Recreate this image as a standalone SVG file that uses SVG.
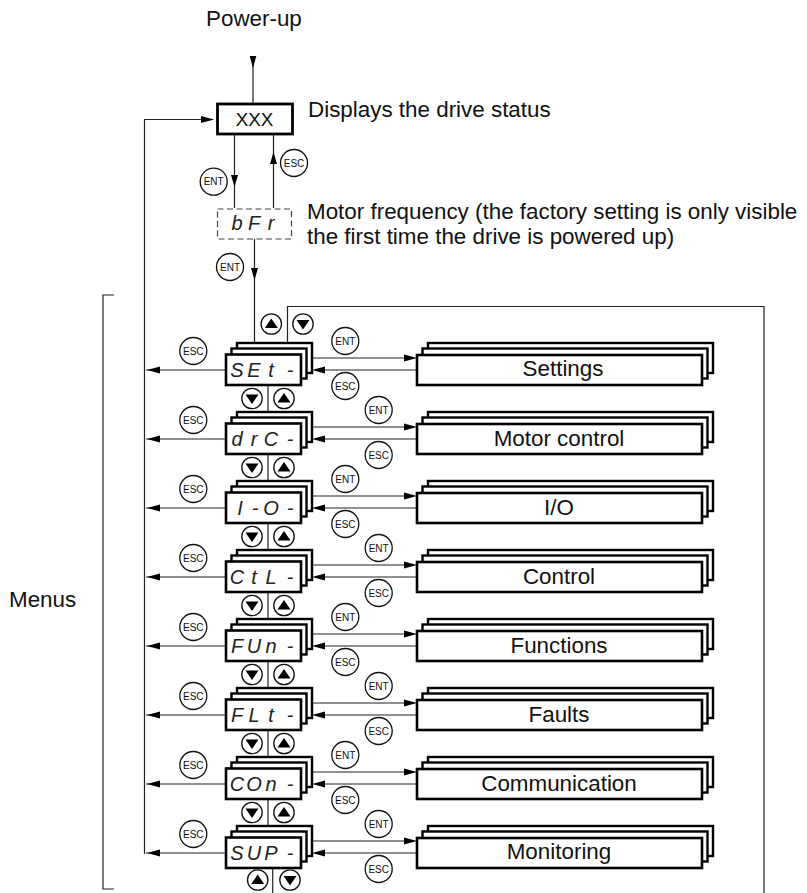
<svg xmlns="http://www.w3.org/2000/svg" xmlns:xlink="http://www.w3.org/1999/xlink" width="807" height="893" viewBox="0 0 807 893">
<style>
.l{fill:none;stroke:#222;stroke-width:1.2}
.h{fill:#000;stroke:none}
.f{fill:#fff;stroke:#000;stroke-width:2.6}
.b{fill:#fff;stroke:#000;stroke-width:2.4}
.c{fill:#fff;stroke:#111;stroke-width:1.3}
.k{font:10px "Liberation Sans",Arial,sans-serif;fill:#111;text-anchor:middle}
.t{font:22.4px "Liberation Sans",Arial,sans-serif;fill:#111}
.m{font:22.4px "Liberation Sans",Arial,sans-serif;fill:#111;text-anchor:middle}
.d{font:italic 20px "Liberation Sans",sans-serif;fill:#222;text-anchor:middle}
</style>
<defs>
<g id="ent"><circle class="c" r="13.5"/><text class="k" y="3.6">ENT</text></g>
<g id="esc"><circle class="c" r="13.5"/><text class="k" y="3.6">ESC</text></g>
<g id="up"><circle class="c" r="10.2"/><path class="h" d="M0-5.5 6.5 4H-6.5Z"/></g>
<g id="dn"><circle class="c" r="10.2"/><path class="h" d="M0 5.5 6.500-4H-6.500Z"/></g>
<g id="stack"><rect class="b" x="11" y="-27" width="75" height="30"/><rect class="b" x="5.500" y="-21.500" width="75" height="30"/><rect class="f" x="0" y="-15.500" width="75" height="30.500"/></g>
<g id="mstack"><rect class="b" x="11" y="-27" width="285" height="30"/><rect class="b" x="5.500" y="-21.500" width="285" height="30"/><rect class="f" x="0" y="-15" width="285" height="30"/></g>
</defs>
<g id="connectors">
<path class="l" d="M253 60V104M234.500 134V208M273.500 134V208M254.500 239V342M144.500 854V119.500H206M287.500 342V306.500H764V893M272.700 868V893"/>
<path class="h" d="M253 68 249.700 56H256.300ZM234.500 187 231 175H238ZM273.500 152 270 164H277ZM254.500 280 251 268H258ZM214 119.500 201 116V123Z"/>
<g id="row-links">
<path class="l" d="M146 370H226M312 358H405M325 370H417M268 385V412"/><path class="h" d="M147 370 160 366.500V373.500ZM417 358 404 354.500V361.500ZM312 370 325 366.500V373.500Z"/>
<path class="l" d="M146 439H226M312 427H405M325 439H417M268 454V481"/><path class="h" d="M147 439 160 435.500V442.500ZM417 427 404 423.500V430.500ZM312 439 325 435.500V442.500Z"/>
<path class="l" d="M146 508H226M312 496H405M325 508H417M268 523V550"/><path class="h" d="M147 508 160 504.500V511.500ZM417 496 404 492.500V499.500ZM312 508 325 504.500V511.500Z"/>
<path class="l" d="M146 577H226M312 565H405M325 577H417M268 592V619"/><path class="h" d="M147 577 160 573.500V580.500ZM417 565 404 561.500V568.500ZM312 577 325 573.500V580.500Z"/>
<path class="l" d="M146 646H226M312 634H405M325 646H417M268 661V688"/><path class="h" d="M147 646 160 642.500V649.500ZM417 634 404 630.500V637.500ZM312 646 325 642.500V649.500Z"/>
<path class="l" d="M146 715H226M312 703H405M325 715H417M268 730V757"/><path class="h" d="M147 715 160 711.500V718.500ZM417 703 404 699.500V706.500ZM312 715 325 711.500V718.500Z"/>
<path class="l" d="M146 784H226M312 772H405M325 784H417M268 799V826"/><path class="h" d="M147 784 160 780.500V787.500ZM417 772 404 768.500V775.500ZM312 784 325 780.500V787.500Z"/>
<path class="l" d="M146 853H226M312 841H405M325 853H417"/><path class="h" d="M147 853 160 849.500V856.500ZM417 841 404 837.500V844.500ZM312 853 325 849.500V856.500Z"/>
</g>
</g>
<path class="l" d="M114 295H103V889H114"/>
<text class="t" x="206" y="25.500">Power-up</text>
<text class="t" x="308" y="116.500">Displays the drive status</text>
<text class="t" x="307" y="219.300">Motor frequency (the factory setting is only visible</text>
<text class="t" x="307" y="244">the first time the drive is powered up)</text>
<text class="t" x="9" y="607">Menus</text>
<g id="status"><rect x="217.500" y="104" width="75" height="30" fill="#fff" stroke="#000" stroke-width="2.800"/><text class="m" x="254.500" y="126" style="font-size:18.8px">XXX</text></g>
<g id="freq"><rect x="217.500" y="209" width="74" height="30" fill="#fff" stroke="#444" stroke-width="1.200" stroke-dasharray="6 3.500"/><text class="d" x="237" y="230">b</text><text class="d" x="254" y="230">F</text><text class="d" x="271" y="230">r</text></g>
<use xlink:href="#ent" x="213.700" y="181.700"/><use xlink:href="#esc" x="294" y="163"/><use xlink:href="#ent" x="230" y="267"/>
<use xlink:href="#up" x="271.300" y="324"/><use xlink:href="#dn" x="303" y="324"/>
<g id="node-set"><use xlink:href="#stack" x="226" y="370"/><text class="d" x="237" y="377">S</text><text class="d" x="254" y="377">E</text><text class="d" x="271" y="377">t</text><text class="d" x="290" y="377">-</text><use xlink:href="#esc" x="193.300" y="351"/><use xlink:href="#dn" x="252" y="398.500"/><use xlink:href="#up" x="284" y="398.500"/></g>
<g id="node-drc"><use xlink:href="#stack" x="226" y="439"/><text class="d" x="237" y="446">d</text><text class="d" x="254" y="446">r</text><text class="d" x="271" y="446">C</text><text class="d" x="290" y="446">-</text><use xlink:href="#esc" x="193.300" y="420"/><use xlink:href="#dn" x="252" y="467.500"/><use xlink:href="#up" x="284" y="467.500"/></g>
<g id="node-io"><use xlink:href="#stack" x="226" y="508"/><text class="d" x="240" y="515">I</text><text class="d" x="255" y="515">-</text><text class="d" x="271" y="515">O</text><text class="d" x="290" y="515">-</text><use xlink:href="#esc" x="193.300" y="489"/><use xlink:href="#dn" x="252" y="536.500"/><use xlink:href="#up" x="284" y="536.500"/></g>
<g id="node-ctl"><use xlink:href="#stack" x="226" y="577"/><text class="d" x="237" y="584">C</text><text class="d" x="254" y="584">t</text><text class="d" x="271" y="584">L</text><text class="d" x="290" y="584">-</text><use xlink:href="#esc" x="193.300" y="558"/><use xlink:href="#dn" x="252" y="605.500"/><use xlink:href="#up" x="284" y="605.500"/></g>
<g id="node-fun"><use xlink:href="#stack" x="226" y="646"/><text class="d" x="237" y="653">F</text><text class="d" x="254" y="653">U</text><text class="d" x="271" y="653">n</text><text class="d" x="290" y="653">-</text><use xlink:href="#esc" x="193.300" y="627"/><use xlink:href="#dn" x="252" y="674.500"/><use xlink:href="#up" x="284" y="674.500"/></g>
<g id="node-flt"><use xlink:href="#stack" x="226" y="715"/><text class="d" x="237" y="722">F</text><text class="d" x="254" y="722">L</text><text class="d" x="271" y="722">t</text><text class="d" x="290" y="722">-</text><use xlink:href="#esc" x="193.300" y="696"/><use xlink:href="#dn" x="252" y="743.500"/><use xlink:href="#up" x="284" y="743.500"/></g>
<g id="node-con"><use xlink:href="#stack" x="226" y="784"/><text class="d" x="237" y="791">C</text><text class="d" x="254" y="791">O</text><text class="d" x="271" y="791">n</text><text class="d" x="290" y="791">-</text><use xlink:href="#esc" x="193.300" y="765"/><use xlink:href="#dn" x="252" y="812.500"/><use xlink:href="#up" x="284" y="812.500"/></g>
<g id="node-sup"><use xlink:href="#stack" x="226" y="853"/><text class="d" x="237" y="860">S</text><text class="d" x="254" y="860">U</text><text class="d" x="271" y="860">P</text><text class="d" x="290" y="860">-</text><use xlink:href="#esc" x="193.300" y="834"/><use xlink:href="#up" x="257.700" y="880"/><use xlink:href="#dn" x="290" y="880"/></g>
<g id="menu-settings"><use xlink:href="#mstack" x="417" y="370"/><text class="m" x="563" y="375.500">Settings</text><use xlink:href="#ent" x="345.300" y="341"/><use xlink:href="#esc" x="345.300" y="386"/></g>
<g id="menu-motor"><use xlink:href="#mstack" x="417" y="439"/><text class="m" x="559" y="445.500">Motor control</text><use xlink:href="#ent" x="378.700" y="410"/><use xlink:href="#esc" x="378.700" y="455"/></g>
<g id="menu-io"><use xlink:href="#mstack" x="417" y="508"/><text class="m" x="559" y="514.500">I/O</text><use xlink:href="#ent" x="345.300" y="479"/><use xlink:href="#esc" x="345.300" y="524"/></g>
<g id="menu-control"><use xlink:href="#mstack" x="417" y="577"/><text class="m" x="559" y="583.500">Control</text><use xlink:href="#ent" x="378.700" y="548"/><use xlink:href="#esc" x="378.700" y="593"/></g>
<g id="menu-functions"><use xlink:href="#mstack" x="417" y="646"/><text class="m" x="559" y="652.500">Functions</text><use xlink:href="#ent" x="345.300" y="617"/><use xlink:href="#esc" x="345.300" y="662"/></g>
<g id="menu-faults"><use xlink:href="#mstack" x="417" y="715"/><text class="m" x="559" y="721.500">Faults</text><use xlink:href="#ent" x="378.700" y="686"/><use xlink:href="#esc" x="378.700" y="731"/></g>
<g id="menu-communication"><use xlink:href="#mstack" x="417" y="784"/><text class="m" x="559" y="790.500">Communication</text><use xlink:href="#ent" x="345.300" y="755"/><use xlink:href="#esc" x="345.300" y="800"/></g>
<g id="menu-monitoring"><use xlink:href="#mstack" x="417" y="853"/><text class="m" x="559" y="859">Monitoring</text><use xlink:href="#ent" x="378.700" y="824"/><use xlink:href="#esc" x="378.700" y="869"/></g>
</svg>
